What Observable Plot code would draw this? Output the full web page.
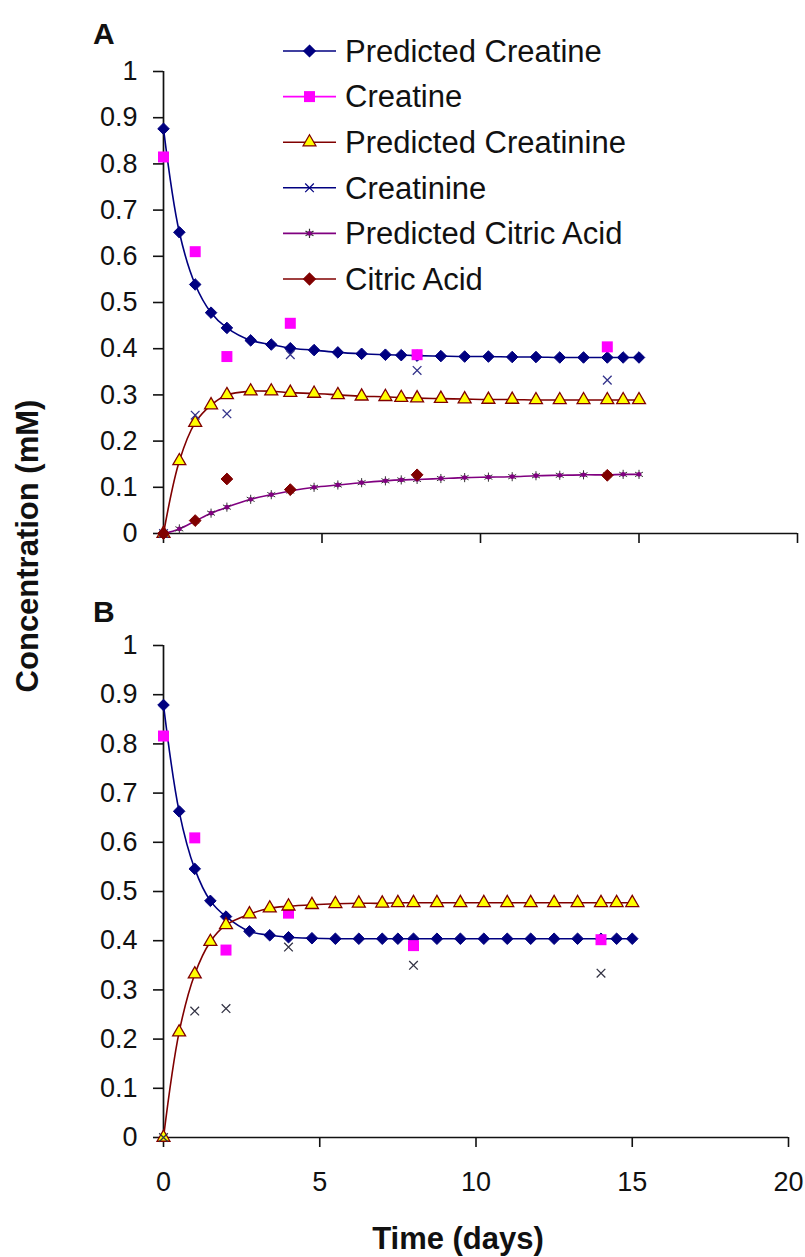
<!DOCTYPE html>
<html>
<head>
<meta charset="utf-8">
<script src="https://cdn.jsdelivr.net/npm/d3@7"></script>
<script src="https://cdn.jsdelivr.net/npm/@observablehq/plot@0.6"></script>
<style>
  html, body { margin: 0; padding: 0; background: #fff; }
  #wrap { position: relative; width: 805px; height: 1257px; font-family: "Liberation Sans", Arial, sans-serif; color: #111; }
  .abs { position: absolute; }
  .panel { position: absolute; left: 0; }
  .letter { position: absolute; font-weight: bold; font-size: 30px; line-height: 1; }
  #ylab { position: absolute; font-weight: bold; font-size: 31px; white-space: nowrap; transform: translate(-50%, -50%) rotate(-90deg); left: 28px; top: 546px; }
  #xlab { position: absolute; font-weight: bold; font-size: 31px; white-space: nowrap; transform: translate(-50%, -50%); left: 458px; top: 1239px; }
</style>
</head>
<body>
<div id="wrap">
  <div class="letter" style="left:93px; top:19px;">A</div>
  <div class="letter" style="left:93px; top:597px;">B</div>
  <div id="ylab">Concentration (mM)</div>
  <div id="xlab">Time (days)</div>
</div>
<script>
// ---------- data ----------
const xTicks = [0, 5, 10, 15, 20];
const yTicks = [0, 0.1, 0.2, 0.3, 0.4, 0.5, 0.6, 0.7, 0.8, 0.9, 1];

const seriesNames = ["Predicted Creatine", "Creatine", "Predicted Creatinine", "Creatinine", "Predicted Citric Acid", "Citric Acid"];

// model output times (days)
const tPred = [0, 0.5, 1, 1.5, 2, 2.75, 3.4, 4, 4.75, 5.5, 6.25, 7, 7.5, 8, 8.75, 9.5, 10.25, 11, 11.75, 12.5, 13.25, 14, 14.5, 15];
// measurement times (days)
const tMeas = [0, 1, 2, 4, 8, 14];

// Panel A
const aPredCreatine   = [0.876, 0.652, 0.539, 0.478, 0.445, 0.418, 0.409, 0.401, 0.397, 0.392, 0.389, 0.387, 0.386, 0.385, 0.384, 0.383, 0.383, 0.382, 0.382, 0.381, 0.381, 0.381, 0.381, 0.381];
const aPredCreatinine = [0, 0.157, 0.240, 0.278, 0.300, 0.308, 0.308, 0.305, 0.303, 0.300, 0.297, 0.296, 0.294, 0.293, 0.292, 0.291, 0.290, 0.290, 0.289, 0.289, 0.289, 0.289, 0.289, 0.289];
const aPredCitric     = [0, 0.010, 0.027, 0.044, 0.057, 0.074, 0.084, 0.092, 0.100, 0.105, 0.110, 0.114, 0.116, 0.117, 0.119, 0.121, 0.122, 0.123, 0.125, 0.126, 0.127, 0.127, 0.128, 0.128];
const aCreatine   = [0.815, 0.610, 0.383, 0.455, 0.387, 0.404];
const aCreatinine = [0, 0.256, 0.259, 0.387, 0.353, 0.332];
const aCitric     = [0, 0.028, 0.118, 0.095, 0.127, 0.126];

// Panel B
const bPredCreatine   = [0.879, 0.663, 0.546, 0.481, 0.449, 0.419, 0.411, 0.407, 0.405, 0.404, 0.404, 0.404, 0.404, 0.404, 0.404, 0.404, 0.404, 0.404, 0.404, 0.404, 0.404, 0.404, 0.404, 0.404];
const bPredCreatinine = [0, 0.214, 0.332, 0.398, 0.432, 0.454, 0.466, 0.470, 0.473, 0.475, 0.476, 0.476, 0.477, 0.477, 0.477, 0.477, 0.477, 0.477, 0.477, 0.477, 0.477, 0.477, 0.477, 0.477];
const bCreatine   = [0.816, 0.609, 0.381, 0.456, 0.390, 0.402];
const bCreatinine = [0, 0.257, 0.262, 0.387, 0.350, 0.334];

// ---------- styles ----------
const NAVY = "#000080", MAG = "#FF00FF", DRED = "#800000", PURP = "#800080", YEL = "#FFFF00";

const zip = (t, v) => t.map((x, i) => ({x, y: v[i]}));

const fontStyle = {fontFamily: '"Liberation Sans", Arial, sans-serif', fontSize: "27px", color: "#111", background: "transparent", overflow: "visible"};

function panel({height, marginTop, marginBottom, marginRight, showXLabels, predCr, predCn, predCa, cr, cn, ca, cnColor}) {
  const marks = [
    Plot.ruleX([0], {stroke: "#111", strokeWidth: 1.7}),
    Plot.ruleY([0], {stroke: "#111", strokeWidth: 1.7}),
    Plot.axisY({ticks: yTicks, tickSize: 10, tickPadding: 16, tickFormat: d => String(+d.toFixed(1)), strokeWidth: 1.6, stroke: "#111", label: null}),
    Plot.axisX({ticks: xTicks, tickSize: 10, tickPadding: 24, tickFormat: showXLabels ? (d => String(d)) : (() => ""), strokeWidth: 1.6, stroke: "#111", label: null}),
    // Predicted Creatine
    Plot.line(zip(tPred, predCr), {x: "x", y: "y", stroke: NAVY, strokeWidth: 1.6, curve: "catmull-rom"}),
    Plot.dot(zip(tPred, predCr), {x: "x", y: "y", symbol: "diamond2", r: 5.2, fill: NAVY, stroke: NAVY, strokeWidth: 1}),
    // Creatine (measured)
    Plot.dot(zip(tMeas, cr), {x: "x", y: "y", symbol: "square", r: 6.2, fill: MAG}),
    // Predicted Creatinine
    Plot.line(zip(tPred, predCn), {x: "x", y: "y", stroke: DRED, strokeWidth: 1.6, curve: "catmull-rom"}),
    Plot.dot(zip(tPred, predCn), {x: "x", y: "y", symbol: "triangle", r: 4.8, fill: YEL, stroke: DRED, strokeWidth: 1.3}),
    // Creatinine (measured)
    Plot.dot(zip(tMeas, cn), {x: "x", y: "y", symbol: "times", r: 4, stroke: cnColor, strokeWidth: 1.3})
  ];
  if (predCa) {
    marks.push(
      Plot.line(zip(tPred, predCa), {x: "x", y: "y", stroke: PURP, strokeWidth: 1.6, curve: "catmull-rom"}),
      Plot.dot(zip(tPred, predCa), {x: "x", y: "y", symbol: "asterisk", r: 4.3, stroke: "#333", strokeWidth: 1}),
      Plot.dot(zip(tPred, predCa), {x: "x", y: "y", symbol: "circle", r: 2.4, fill: PURP}),
      Plot.dot(zip(tMeas, ca), {x: "x", y: "y", symbol: "diamond2", r: 5.3, fill: DRED, stroke: DRED, strokeWidth: 1})
    );
  }
  return Plot.plot({
    width: 805, height, marginLeft: 163, marginRight, marginTop, marginBottom,
    style: fontStyle,
    x: {domain: [0, 20]},
    y: {domain: [0, 1]},
    marks
  });
}

const wrap = document.getElementById("wrap");

const pA = panel({height: 580, marginTop: 71, marginBottom: 47, marginRight: 8, showXLabels: false,
  predCr: aPredCreatine, predCn: aPredCreatinine, predCa: aPredCitric,
  cr: aCreatine, cn: aCreatinine, ca: aCitric, cnColor: "#33338a"});
pA.classList.add("panel"); pA.style.top = "0px";
wrap.appendChild(pA);

const pB = panel({height: 677, marginTop: 65, marginBottom: 120, marginRight: 17, showXLabels: true,
  predCr: bPredCreatine, predCn: bPredCreatinine, predCa: null,
  cr: bCreatine, cn: bCreatinine, ca: null, cnColor: "#333344"});
pB.classList.add("panel"); pB.style.top = "580px";
wrap.appendChild(pB);

// ---------- legend (panel A) ----------
const legendSpec = [
  {name: seriesNames[0], line: NAVY, sym: d3.symbolDiamond2, r: 5.2, fill: NAVY, stroke: NAVY},
  {name: seriesNames[1], line: MAG, sym: d3.symbolSquare, r: 6.2, fill: MAG, stroke: "none"},
  {name: seriesNames[2], line: DRED, sym: d3.symbolTriangle, r: 4.8, fill: YEL, stroke: DRED},
  {name: seriesNames[3], line: NAVY, sym: d3.symbolTimes, r: 4, fill: "none", stroke: NAVY},
  {name: seriesNames[4], line: PURP, sym: d3.symbolAsterisk, r: 4.3, fill: "none", stroke: "#333", dot: PURP},
  {name: seriesNames[5], line: DRED, sym: d3.symbolDiamond2, r: 5.3, fill: DRED, stroke: DRED}
];
const leg = d3.select(wrap).append("svg")
  .attr("class", "abs")
  .style("left", "270px").style("top", "20px")
  .attr("width", 420).attr("height", 290);
const rowY = i => 31 + 45.6 * i;
legendSpec.forEach((s, i) => {
  const g = leg.append("g").attr("transform", `translate(0,${rowY(i)})`);
  g.append("line").attr("x1", 13).attr("x2", 66).attr("y1", 0).attr("y2", 0)
    .attr("stroke", s.line).attr("stroke-width", 1.6);
  g.append("path").attr("transform", "translate(39.5,0)")
    .attr("d", d3.symbol(s.sym, Math.PI * s.r * s.r)())
    .attr("fill", s.fill).attr("stroke", s.stroke).attr("stroke-width", 1.2);
  if (s.dot) g.append("circle").attr("cx", 39.5).attr("cy", 0).attr("r", 2.4).attr("fill", s.dot);
  g.append("text").attr("x", 75).attr("y", 0).attr("dy", "0.35em")
    .attr("font-family", '"Liberation Sans", Arial, sans-serif').attr("font-size", 31)
    .attr("fill", "#111").text(s.name);
});
</script>
</body>
</html>
